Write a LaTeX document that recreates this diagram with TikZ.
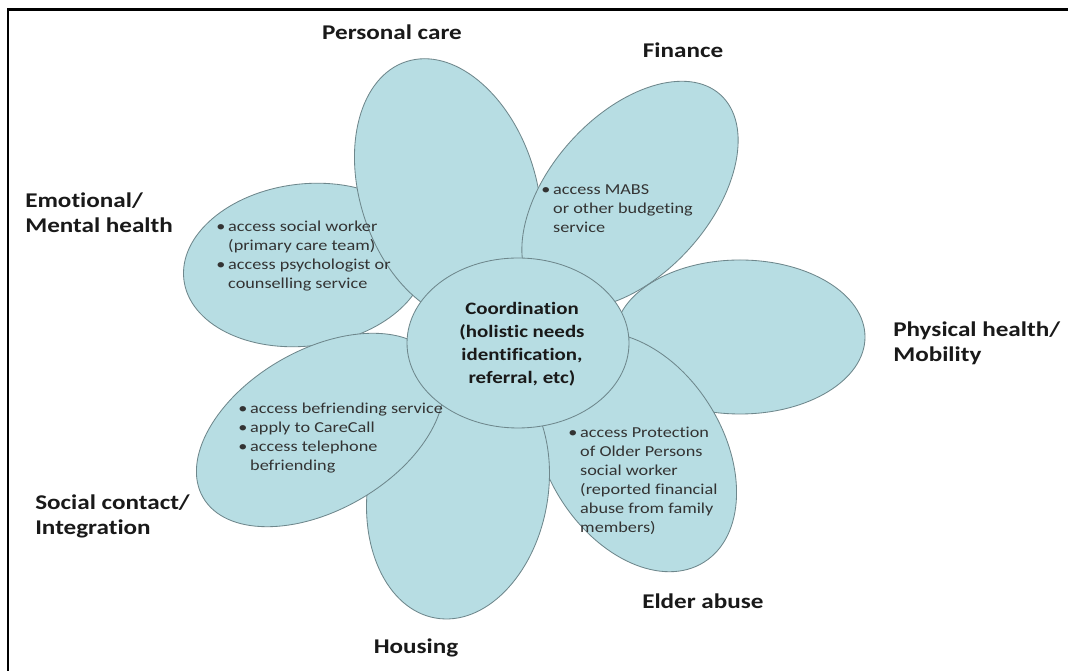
\documentclass[tikz,border=0pt]{standalone}
\usepackage{fontspec}
\setmainfont{Carlito}[FakeStretch=1.2, Ligatures=NoCommon]
\usepackage{xcolor}
\usepackage{tikz}

\definecolor{petalblue}{RGB}{183,221,227}
\definecolor{petalline}{RGB}{110,135,140}

\newcommand{\bul}{\makebox[8.5pt][l]{\textbullet}}
\newcommand{\ind}{\hspace*{8.5pt}}

\tikzset{
    petal/.style={fill=petalblue, draw=petalline, line width=0.6pt},
    heading/.style={font=\fontsize{14.9}{17.8}\selectfont\bfseries, text=black!90, align=left, inner sep=0pt},
    bullets/.style={font=\fontsize{10.8}{13.5}\selectfont, text=black!80, align=left, inner sep=0pt}
}

\begin{document}
\begin{tikzpicture}
    \useasboundingbox (0,0) rectangle (26.7,16.775);
    \fill[white] (0,0) rectangle (26.7,16.775);
    \draw[line width=1.9pt] (0.2,0) -- (0.2,16.54) -- (26.7,16.54);

    % petals, back to front
    \filldraw[petal, rotate around={7:(7.625,10.15)}] (7.625,10.15) ellipse (3.05 and 2.025);
    \filldraw[petal, rotate around={108:(11.2,12.025)}] (11.2,12.025) ellipse (3.375 and 2.2);
    \filldraw[petal, rotate around={48:(15.75,11.9)}] (15.75,11.9) ellipse (3.375 and 2.0);
    \filldraw[petal] (18.5,8.35) ellipse (3.125 and 1.925);
    \filldraw[petal, rotate around={-58:(15.875,5.475)}] (15.875,5.475) ellipse (3.25 and 2.2);
    \filldraw[petal, rotate around={-100:(11.45,4.525)}] (11.45,4.525) ellipse (3.25 and 2.25);
    \filldraw[petal, rotate around={30:(8.0,6.025)}] (8.0,6.025) ellipse (3.375 and 2.0);

    % centre
    \filldraw[petal] (12.95,8.2) ellipse (2.775 and 2.125);
    \node[heading, font=\fontsize{12.4}{16.4}\selectfont\bfseries, align=center] (coord) at (13.05,8.175)
        {Coordination\\(holistic needs\\identification,\\referral, etc)};

    % what each petal offers
    \node[bullets, anchor=west] (emotext) at (5.4,10.375)
        {\bul access social worker\\\ind(primary care team)\\\bul access psychologist or\\\ind counselling service};
    \node[bullets, anchor=west] (fintext) at (13.525,11.55)
        {\bul access MABS\\\ind or other budgeting\\\ind service};
    \node[bullets, anchor=west] (soctext) at (5.95,5.825)
        {\bul access befriending service\\\bul apply to CareCall\\\bul access telephone\\\ind befriending};
    \node[bullets, anchor=west] (eldtext) at (14.2,4.75)
        {\bul access Protection\\\ind of Older Persons\\\ind social worker\\\ind(reported financial\\\ind abuse from family\\\ind members)};

    % petal names
    \node[heading] (personal) at (9.8,15.975) {Personal care};
    \node[heading] (finance) at (17.075,15.525) {Finance};
    \node[heading, anchor=west] (emotional) at (0.625,11.45) {Emotional/\\Mental health};
    \node[heading, anchor=west] (physical) at (22.325,8.2) {Physical health/\\Mobility};
    \node[heading, anchor=west] (social) at (0.875,3.875) {Social contact/\\Integration};
    \node[heading, anchor=west] (elder) at (16.05,1.75) {Elder abuse};
    \node[heading] (housing) at (10.4,0.575) {Housing};
\end{tikzpicture}
\end{document}
